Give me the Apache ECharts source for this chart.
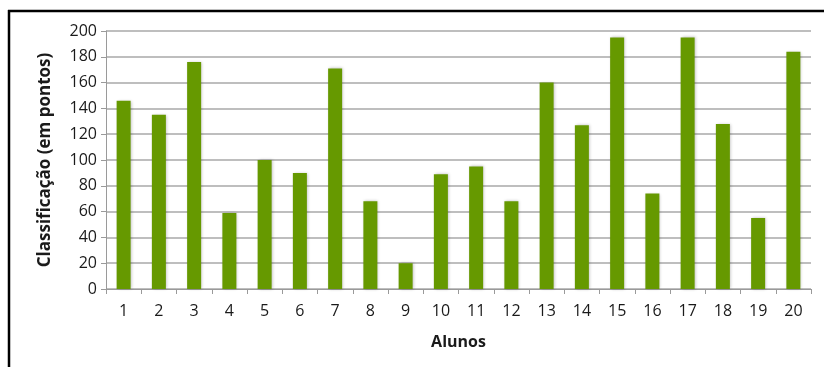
<!DOCTYPE html>
<html>
<head>
<meta charset="utf-8">
<script src="https://cdn.jsdelivr.net/npm/echarts@6/dist/echarts.min.js"></script>
<style>
  html, body { margin: 0; padding: 0; background: #fff; }
  #chart { width: 824px; height: 367px; }
</style>
</head>
<body>
<div id="chart"></div>
<script>
// Pontuação de cada aluno
const alunos = ['1','2','3','4','5','6','7','8','9','10','11','12','13','14','15','16','17','18','19','20'];
const pontos = [146, 135, 176, 59, 100, 90, 171, 68, 20, 89, 95, 68, 160, 127, 195, 74, 195, 128, 55, 184];
const yTicks = [0, 200, 20]; // min, max, intervalo

const font = '"Open Sans", "Noto Sans", sans-serif';
const chart = echarts.init(document.getElementById('chart'), null, { renderer: 'canvas' });

chart.setOption({
  animation: false,
  backgroundColor: '#ffffff',
  grid: { left: 106, right: 13, top: 31, bottom: 78, containLabel: false },
  graphic: [
    { type: 'line', shape: { x1: 8, y1: 11, x2: 824, y2: 11 }, style: { stroke: '#000', lineWidth: 2.5 } },
    { type: 'line', shape: { x1: 9, y1: 10, x2: 9, y2: 367 }, style: { stroke: '#000', lineWidth: 2.5 } }
  ],
  xAxis: {
    type: 'category',
    data: alunos,
    name: 'Alunos',
    nameLocation: 'middle',
    nameGap: 45,
    nameTextStyle: { fontFamily: font, fontWeight: 'bold', fontSize: 16, color: '#1a1a1a' },
    axisLine: { lineStyle: { color: '#9a9a9a', width: 1 } },
    axisTick: { show: true, alignWithLabel: false, length: 5, lineStyle: { color: '#9a9a9a' } },
    axisLabel: { fontFamily: font, fontSize: 16, color: '#1a1a1a', margin: 14 }
  },
  yAxis: {
    type: 'value',
    min: yTicks[0],
    max: yTicks[1],
    interval: yTicks[2],
    name: 'Classificação (em pontos)',
    nameLocation: 'middle',
    nameGap: 52,
    nameTextStyle: { fontFamily: font, fontWeight: 'bold', fontSize: 17, color: '#1a1a1a' },
    axisLine: { show: true, lineStyle: { color: '#9a9a9a', width: 1 } },
    axisTick: { show: true, length: 5, lineStyle: { color: '#9a9a9a' } },
    axisLabel: { fontFamily: font, fontSize: 16, color: '#1a1a1a', margin: 9 },
    splitLine: { lineStyle: { color: '#a8a8a8', width: 1.5 } }
  },
  series: [{
    type: 'bar',
    data: pontos,
    barWidth: 14,
    itemStyle: {
      color: '#669900',
      shadowColor: 'rgba(0,0,0,0.25)',
      shadowBlur: 3,
      shadowOffsetX: 1,
      shadowOffsetY: 0
    }
  }]
});
</script>
</body>
</html>
